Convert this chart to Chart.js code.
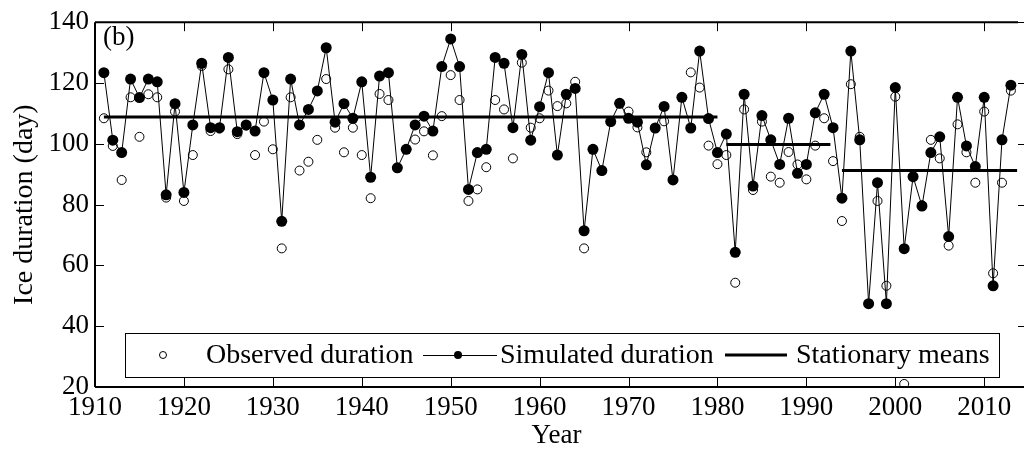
<!DOCTYPE html>
<html>
<head>
<meta charset="utf-8">
<script src="https://cdn.jsdelivr.net/npm/chart.js@4.4.1/dist/chart.umd.min.js"></script>
<style>
html, body { margin: 0; padding: 0; background: #fff; }
</style>
</head>
<body>
<canvas id="iceChart" width="1024" height="452"></canvas>
<script>
var years = [
	1911, 1912, 1913, 1914, 1915, 1916, 1917, 1918, 1919, 1920,
	1921, 1922, 1923, 1924, 1925, 1926, 1927, 1928, 1929, 1930,
	1931, 1932, 1933, 1934, 1935, 1936, 1937, 1938, 1939, 1940,
	1941, 1942, 1943, 1944, 1945, 1946, 1947, 1948, 1949, 1950,
	1951, 1952, 1953, 1954, 1955, 1956, 1957, 1958, 1959, 1960,
	1961, 1962, 1963, 1964, 1965, 1966, 1967, 1968, 1969, 1970,
	1971, 1972, 1973, 1974, 1975, 1976, 1977, 1978, 1979, 1980,
	1981, 1982, 1983, 1984, 1985, 1986, 1987, 1988, 1989, 1990,
	1991, 1992, 1993, 1994, 1995, 1996, 1997, 1998, 1999, 2000,
	2001, 2002, 2003, 2004, 2005, 2006, 2007, 2008, 2009, 2010,
	2011, 2012, 2013
];

var observed = [
	108.4, 99.3, 88.1, 115.3, 102.3, 116.3, 115.3, 82.3, 110.6, 81.2,
	96.3, 125.6, 104.2, 105.0, 124.5, 103.2, 106.0, 96.3, 107.3, 98.2,
	65.6, 115.3, 91.2, 94.1, 101.3, 121.3, 105.3, 97.2, 105.3, 96.3,
	82.1, 116.4, 114.4, 92.1, 98.2, 101.4, 104.1, 96.2, 109.1, 122.6,
	114.4, 81.2, 85.0, 92.3, 114.4, 111.3, 95.2, 126.7, 105.3, 108.4,
	117.5, 112.4, 113.3, 120.4, 65.6, 98.2, 91.2, 107.3, 113.3, 110.6,
	105.4, 97.2, 105.2, 107.4, 88.1, 115.3, 123.5, 118.5, 99.4, 93.3,
	96.3, 54.3, 111.3, 84.8, 107.3, 89.2, 87.2, 97.3, 93.2, 88.3,
	99.4, 108.4, 94.3, 74.6, 119.6, 102.3, 47.4, 81.2, 53.3, 115.5,
	21.0, 89.2, 79.8, 101.3, 95.2, 66.5, 106.4, 97.2, 87.2, 110.6,
	57.4, 87.2, 117.5
];

var simulated = [
	123.4, 101.2, 97.1, 121.3, 115.2, 121.3, 120.4, 83.2, 113.2, 84.0,
	106.2, 126.5, 105.3, 105.3, 128.4, 104.0, 106.2, 104.2, 123.4, 114.4,
	74.5, 121.3, 106.2, 111.3, 117.4, 131.6, 107.1, 113.2, 108.4, 120.4,
	89.0, 122.3, 123.4, 92.1, 98.2, 106.2, 109.1, 104.2, 125.4, 134.5,
	125.4, 85.0, 97.1, 98.2, 128.4, 126.5, 105.3, 129.4, 101.2, 112.2,
	123.4, 96.3, 116.3, 118.2, 71.4, 98.2, 91.2, 107.3, 113.3, 108.4,
	107.1, 93.1, 105.2, 112.3, 88.1, 115.3, 105.2, 130.5, 108.3, 97.1,
	103.2, 64.3, 116.3, 86.1, 109.3, 101.3, 93.2, 108.4, 90.3, 93.2,
	110.2, 116.3, 105.3, 82.1, 130.5, 101.3, 47.4, 87.2, 47.4, 118.5,
	65.5, 89.2, 79.5, 97.1, 102.3, 69.5, 115.3, 99.3, 92.5, 115.3,
	53.3, 101.3, 119.3
];

// stationary periods
var meanStart = [1911, 1981, 1994];
var meanEnd = [1980, 1992.7, 2013.7];
var meanValue = [108.8, 99.8, 91.2];

var xTicks = [1910, 1920, 1930, 1940, 1950, 1960, 1970, 1980, 1990, 2000, 2010];
var yTicks = [20, 40, 60, 80, 100, 120, 140];

var fontFamily = '"Liberation Serif", "Times New Roman", serif';

var obsPoints = years.map(function(yr, i) { return { x: yr, y: observed[i] }; });
var simPoints = years.map(function(yr, i) { return { x: yr, y: simulated[i] }; });
var meanPoints = [];
meanStart.forEach(function(s, i) {
	meanPoints.push({ x: s, y: meanValue[i] });
	meanPoints.push({ x: meanEnd[i], y: meanValue[i] });
	meanPoints.push({ x: meanEnd[i], y: null });
});

function line(c, x1, y1, x2, y2) {
	c.beginPath();
	c.moveTo(x1, y1);
	c.lineTo(x2, y2);
	c.stroke();
}

// frame, inner ticks, legend box and panel letter
var framePlugin = {
	id: 'frame',
	afterDatasetsDraw: function(chart) {
		var c = chart.ctx;
		var a = chart.chartArea;
		var xs = chart.scales.x;
		var ys = chart.scales.y;
		c.save();
		c.strokeStyle = '#000';
		c.lineWidth = 1;
		xTicks.forEach(function(v) {
			var px = Math.round(xs.getPixelForValue(v)) + 0.5;
			line(c, px, a.top, px, a.top + 9);
			line(c, px, a.bottom, px, a.bottom - 9);
		});
		yTicks.forEach(function(v) {
			var py = Math.round(ys.getPixelForValue(v)) + 0.5;
			line(c, a.left, py, a.left + 9, py);
			line(c, a.right, py, chart.width, py);
		});
		c.lineWidth = 2;
		line(c, a.left, a.top, a.right, a.top);
		line(c, a.left, a.top, a.left, a.bottom);
		line(c, a.left, a.bottom, chart.width, a.bottom);

		// legend
		c.fillStyle = '#fff';
		c.fillRect(125, 333, 875, 44);
		c.lineWidth = 1;
		c.strokeRect(125.5, 333.5, 874, 44);
		var ly = 355;
		c.beginPath();
		c.arc(163, ly, 3.5, 0, Math.PI * 2);
		c.stroke();
		c.fillStyle = '#000';
		c.font = '28px ' + fontFamily;
		c.textBaseline = 'middle';
		c.textAlign = 'left';
		c.fillText('Observed duration', 206, ly + 1);
		line(c, 423, ly + 0.5, 497, ly + 0.5);
		c.beginPath();
		c.arc(458, ly, 4, 0, Math.PI * 2);
		c.fill();
		c.fillText('Simulated duration', 500, ly + 1);
		c.lineWidth = 3;
		line(c, 725, ly, 787, ly);
		c.fillText('Stationary means', 796, ly + 1);

		c.font = '27px ' + fontFamily;
		c.textBaseline = 'top';
		c.fillText('(b)', 103, 24);
		c.restore();
	}
};

var ctx = document.getElementById('iceChart');

var chart = new Chart(ctx, {
	type: 'line',
	data: {
		datasets: [{
			label: 'Observed duration',
			data: obsPoints,
			showLine: false,
			pointStyle: 'circle',
			pointRadius: 4.5,
			pointBorderWidth: 1,
			pointBorderColor: '#000',
			pointBackgroundColor: 'rgba(0,0,0,0)',
			borderColor: '#000'
		}, {
			label: 'Simulated duration',
			data: simPoints,
			borderColor: '#000',
			borderWidth: 1,
			pointRadius: 5.5,
			pointBorderWidth: 0,
			pointBackgroundColor: '#000',
			pointBorderColor: '#000'
		}, {
			label: 'Stationary means',
			data: meanPoints,
			borderColor: '#000',
			borderWidth: 3,
			pointRadius: 0,
			spanGaps: false
		}]
	},
	options: {
		responsive: false,
		animation: false,
		events: [],
		layout: { padding: { top: 22, right: 6, left: 0, bottom: 0 } },
		plugins: {
			legend: { display: false },
			tooltip: { enabled: false }
		},
		scales: {
			x: {
				type: 'linear',
				min: 1910,
				max: 2013.8,
				afterFit: function(s) { s.height = 65; },
				grid: { display: false, drawTicks: false },
				border: { display: false },
				ticks: {
					stepSize: 10,
					includeBounds: false,
					maxRotation: 0,
					autoSkip: false,
					padding: 5,
					color: '#000',
					font: { family: fontFamily, size: 27 },
					callback: function(v) { return String(v); }
				},
				title: {
					display: true,
					text: 'Year',
					color: '#000',
					font: { family: fontFamily, size: 27 },
					padding: { top: 6, bottom: 0 }
				}
			},
			y: {
				min: 20,
				max: 140,
				afterFit: function(s) { s.width = 95; },
				grid: { display: false, drawTicks: false },
				border: { display: false },
				ticks: {
					stepSize: 20,
					padding: 6,
					color: '#000',
					font: { family: fontFamily, size: 27 },
					callback: function(v) { return String(v); }
				},
				title: {
					display: true,
					text: 'Ice duration (day)',
					color: '#000',
					font: { family: fontFamily, size: 28 },
					padding: { top: 8, bottom: 0 }
				}
			}
		}
	},
	plugins: [framePlugin]
});
</script>
</body>
</html>
